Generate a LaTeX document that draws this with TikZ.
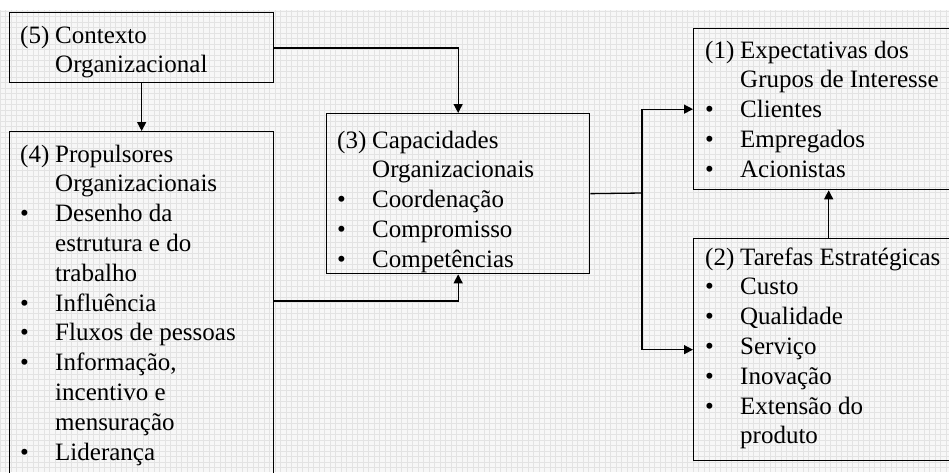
\documentclass[tikz,border=0pt]{standalone}
\usepackage{array}
\usepackage{fontspec}
\setmainfont{Liberation Serif}
\usetikzlibrary{arrows.meta}
\newcommand{\bt}{\textbullet}
\tikzset{
  box/.style={draw=black, line width=1.3pt, fill=none, inner sep=0pt, anchor=north west},
  txt/.style={anchor=base west, inner sep=0pt, font=\fontsize{25}{29.8}\selectfont},
  arr/.style={line width=1.3pt, -{Triangle[length=9pt,width=9pt]}},
  ln/.style={line width=1.3pt},
}
\newcolumntype{B}{@{}p{35pt}@{}l@{}}
\begin{document}
\begin{tikzpicture}[x=1pt,y=-1pt]
\useasboundingbox (0,0) rectangle (949,472);
\begin{scope}
\clip (0,0) rectangle (949,472);
\fill[white] (0,0) rectangle (949,472);
\fill[black!3] (0,10) rectangle (949,472);
\draw[black!11, line width=0.8pt, step=5.5pt] (0,10) grid (949,472);
% boxes
\node[box, minimum width=264pt, minimum height=70pt] (b5) at (9,12) {};
\node[box, minimum width=264pt, minimum height=360pt] (b4) at (9,131) {};
\node[box, minimum width=263pt, minimum height=160pt] (b3) at (326,113) {};
\node[box, minimum width=270pt, minimum height=161pt] (b1) at (693,28) {};
\node[box, minimum width=270pt, minimum height=222pt] (b2) at (693,238) {};
% texts
\node[txt] (t5) at (20,43) {\begin{tabular}[t]{B}(5) & Contexto\\ & Organizacional\end{tabular}};
\node[txt] (t4) at (20,162) {\begin{tabular}[t]{B}(4) & Propulsores\\ & Organizacionais\\
\bt & Desenho da\\ & estrutura e do\\ & trabalho\\ \bt & Influência\\ \bt & Fluxos de pessoas\\
\bt & Informação,\\ & incentivo e\\ & mensuração\\ \bt & Liderança\end{tabular}};
\node[txt] (t3) at (337,148) {\begin{tabular}[t]{B}(3) & Capacidades\\ & Organizacionais\\
\bt & Coordenação\\ \bt & Compromisso\\ \bt & Competências\end{tabular}};
\node[txt] (t1) at (705,58) {\begin{tabular}[t]{B}(1) & Expectativas dos\\ & Grupos de Interesse\\
\bt & Clientes\\ \bt & Empregados\\ \bt & Acionistas\end{tabular}};
\node[txt] (t2) at (705,265) {\begin{tabular}[t]{B}(2) & Tarefas Estratégicas\\ \bt & Custo\\
\bt & Qualidade\\ \bt & Serviço\\ \bt & Inovação\\ \bt & Extensão do\\ & produto\end{tabular}};
% connectors
\coordinate (b5out) at (273,48);
\coordinate (b4out) at (273,301);
\coordinate (j) at (642,193);
\draw[arr] (b5.south) -- (b4.north);
\draw[arr] (b5out) -| (b3.north);
\draw[arr] (b4out) -| (b3.south);
\draw[ln] (b3.east) -- (j);
\draw[arr] (j) |- (b1.west);
\draw[arr] (j) |- (b2.west);
\draw[arr] (b2.north) -- (b1.south);
\end{scope}
\end{tikzpicture}
\end{document}
